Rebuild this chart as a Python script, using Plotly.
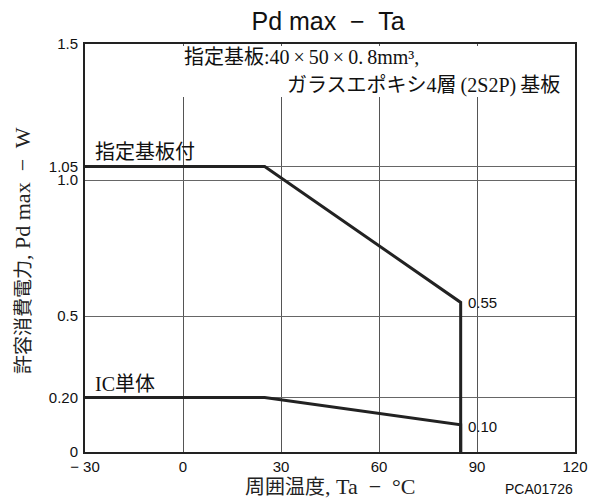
import plotly.graph_objects as go

# Data
board_x = [-30, 25, 85, 85]
board_y = [1.05, 1.05, 0.55, 0.0]
ic_x = [-30, 25, 85, 85]
ic_y = [0.20, 0.20, 0.10, 0.0]

x_ticks = [-30, 0, 30, 60, 90, 120]
x_ticktext = ["− 30", "0", "30", "60", "90", "120"]
y_ticks = [0, 0.20, 0.5, 1.0, 1.05, 1.5]
y_ticktext = ["0", "0.20", "0.5", "1.0", "1.05", "1.5"]

SERIF = "Liberation Serif, Noto Sans CJK JP, serif"
SANS = "Liberation Sans, Arial, sans-serif"

W, H = 589, 499

fig = go.Figure()
fig.add_trace(go.Scatter(x=board_x, y=board_y, mode="lines",
                         line=dict(color="#222", width=3), showlegend=False))
fig.add_trace(go.Scatter(x=ic_x, y=ic_y, mode="lines",
                         line=dict(color="#222", width=3), showlegend=False))

fig.update_layout(
    width=W, height=H,
    margin=dict(l=85, r=14, t=44, b=47, autoexpand=False),
    paper_bgcolor="white", plot_bgcolor="white",
    title=dict(text="Pd max  −  Ta", x=328 / W, xanchor="center",
               y=1 - 21 / H, yanchor="middle",
               font=dict(family=SANS, size=25, color="#111")),
    xaxis=dict(range=[-30, 120], tickvals=x_ticks, ticktext=x_ticktext,
               showgrid=True, gridcolor="#555", gridwidth=1,
               showline=True, linecolor="#222", linewidth=2, mirror=True,
               zeroline=False, ticks="", ticklen=0,
               tickfont=dict(family=SANS, size=15, color="#111"), automargin=False),
    yaxis=dict(range=[0, 1.5], tickvals=y_ticks, ticktext=y_ticktext,
               showgrid=True, gridcolor="#666", gridwidth=1,
               showline=True, linecolor="#222", linewidth=2, mirror=True,
               zeroline=False, ticks="outside", ticklen=2, tickcolor="rgba(0,0,0,0)",
               tickfont=dict(family=SANS, size=15, color="#111"), automargin=False),
)

# white area behind the board note (hides grid lines there)
fig.add_shape(type="rect", xref="x", yref="y", x0=-0.8, x1=119.5, y0=1.305, y1=1.493,
              fillcolor="white", line=dict(width=0), layer="above")

ann_font = dict(family=SERIF, size=20, color="#111")
fig.add_annotation(x=-0.3, y=1.452, xref="x", yref="y", xanchor="left", yanchor="middle",
                   text="指定基板:40\u2009×\u200950\u2009×\u20090.\u20098mm³,", showarrow=False,
                   font=ann_font)
fig.add_annotation(x=73.5, y=1.349, xref="x", yref="y", xanchor="center", yanchor="middle",
                   text="ガラスエポキシ4層\u2009(2S2P)\u2009基板", showarrow=False, font=ann_font)
fig.add_annotation(x=-27.6, y=1.103, xref="x", yref="y", xanchor="left", yanchor="middle",
                   text="指定基板付", showarrow=False, font=ann_font)
fig.add_annotation(x=-27.6, y=0.25, xref="x", yref="y", xanchor="left", yanchor="middle",
                   text="IC単体", showarrow=False, font=ann_font)
fig.add_annotation(x=86.6, y=0.548, xref="x", yref="y", xanchor="left", yanchor="middle",
                   text="0.55", showarrow=False, font=dict(family=SANS, size=15, color="#111"))
fig.add_annotation(x=86.6, y=0.092, xref="x", yref="y", xanchor="left", yanchor="middle",
                   text="0.10", showarrow=False, font=dict(family=SANS, size=15, color="#111"))

# axis titles
fig.add_annotation(x=(22 - 85) / 490, y=(452 - 251) / 408, xref="paper", yref="paper",
                   xanchor="center", yanchor="middle", textangle=-90,
                   text='許容消費電力<span style="font-size:22px">, Pd max  −  W</span>',
                   showarrow=False, font=dict(family=SERIF, size=19, color="#222"))
fig.add_annotation(x=(330 - 85) / 490, y=(452 - 487) / 408, xref="paper", yref="paper",
                   xanchor="center", yanchor="middle",
                   text='周囲温度<span style="font-size:22px">, Ta  −  °C</span>',
                   showarrow=False, font=dict(family=SERIF, size=20, color="#222"))
fig.add_annotation(x=1.0, y=(452 - 489) / 408, xref="paper", yref="paper",
                   xanchor="right", yanchor="middle",
                   text="PCA01726", showarrow=False,
                   font=dict(family=SANS, size=14, color="#111"))

fig.write_html(
    "out.html",
    config={"displayModeBar": False},
    post_script="document.body.style.margin='0';"
                "document.documentElement.style.overflow='hidden';"
                "document.body.style.overflow='hidden';",
)
